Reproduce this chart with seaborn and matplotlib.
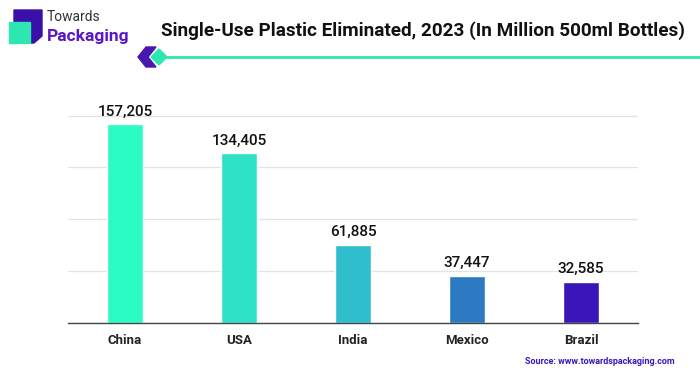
import matplotlib
matplotlib.use("Agg")
import matplotlib.pyplot as plt
import matplotlib.patches as mpatches
import seaborn as sns
import pandas as pd

# data
countries = ["China", "USA", "India", "Mexico", "Brazil"]
bottles = [157205, 134405, 61885, 37447, 32585]
bar_colors = ["#2BFCC6", "#2DE2C7", "#2FBECB", "#2E7AC2", "#3A16B8"]
grid_ticks = [0, 41000, 82000, 123000, 164000]

df = pd.DataFrame({"country": countries, "bottles": bottles})

sns.set_theme(style="white")
plt.rcParams["font.family"] = ["Roboto", "DejaVu Sans"]

fig = plt.figure(figsize=(7, 3.76), dpi=100)
ax = fig.add_axes([68 / 700, 1 - 323 / 376, 570 / 700, 215 / 376])

sns.barplot(data=df, x="country", y="bottles", hue="country",
            palette=bar_colors, width=0.31, legend=False, ax=ax, saturation=1)

ax.set_ylim(0, 170000)
ax.set_yticks(grid_ticks)
ax.set_yticklabels([])
ax.tick_params(axis="y", length=0)
ax.tick_params(axis="x", length=0, pad=8)
ax.yaxis.grid(True, color="#e3e3e3", linewidth=0.9)
ax.set_axisbelow(True)
for s in ["left", "right", "top"]:
    ax.spines[s].set_visible(False)
ax.spines["bottom"].set_color("#444444")
ax.spines["bottom"].set_linewidth(1.0)
ax.set_xlabel("")
ax.set_ylabel("")
for lbl in ax.get_xticklabels():
    lbl.set_fontweight("bold")
    lbl.set_fontsize(9.5)
    lbl.set_color("#222222")

for p, v in zip(ax.patches, bottles):
    ax.annotate(f"{v:,}", (p.get_x() + p.get_width() / 2, p.get_height()),
                xytext=(0, 4), textcoords="offset points", ha="center",
                va="bottom", fontsize=11, fontweight="medium", color="#111111")

# title
fig.text(685 / 700, 1 - 31 / 376,
         "Single-Use Plastic Eliminated, 2023 (In Million 500ml Bottles)",
         ha="right", va="center", fontsize=13.6, fontweight="bold", color="#111111")

# decoration under the title
W, H = 700, 376
fig.add_artist(plt.Line2D([165 / W, 1.0], [1 - 57 / H, 1 - 57 / H],
                          color="#2EE6B0", linewidth=2, transform=fig.transFigure))
chev = mpatches.Polygon([(146 / W, 1 - 47 / H), (156 / W, 1 - 47 / H),
                         (148 / W, 1 - 57 / H), (156 / W, 1 - 67 / H),
                         (146 / W, 1 - 67 / H), (138 / W, 1 - 57 / H)],
                        closed=True, color="#4A16B0", transform=fig.transFigure)
fig.add_artist(chev)
diam = mpatches.Polygon([(159 / W, 1 - 49 / H), (167 / W, 1 - 57 / H),
                         (159 / W, 1 - 65 / H), (151 / W, 1 - 57 / H)],
                        closed=True, color="#2EE6B0", transform=fig.transFigure)
fig.add_artist(diam)

# logo
back = mpatches.Polygon([(14 / W, 1 - 10 / H), (42 / W, 1 - 10 / H),
                         (42 / W, 1 - 36 / H), (34 / W, 1 - 43 / H),
                         (14 / W, 1 - 43 / H)],
                        closed=True, color="#3A10A8", transform=fig.transFigure)
fig.add_artist(back)
fig.add_artist(mpatches.Rectangle((9 / W, 1 - 43 / H), 21 / W, 21 / H,
                                  color="#2EE6B0", transform=fig.transFigure))
fig.text(47 / W, 1 - 17 / H, "Towards", ha="left", va="center",
         fontsize=10, color="#333333")
fig.text(47 / W, 1 - 36 / H, "Packaging", ha="left", va="center",
         fontsize=12.5, fontweight="bold", color="#5B16C8")

# source
fig.text(675 / W, 1 - 362 / H, "Source: www.towardspackaging.com",
         ha="right", va="center", fontsize=6.5, fontweight="bold", color="#3A16C0")

fig.savefig("out.png", dpi=100)
